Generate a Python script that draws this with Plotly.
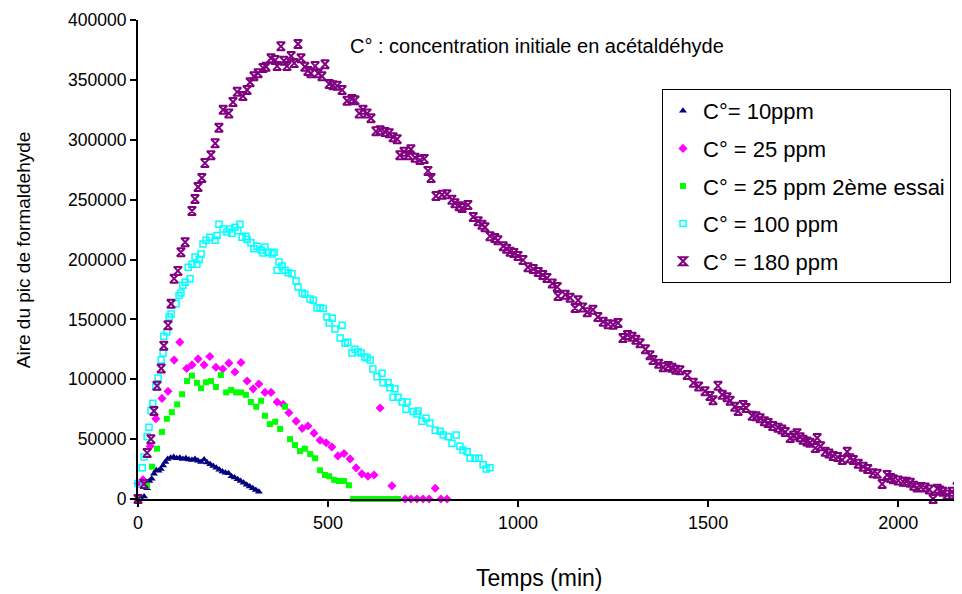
import plotly.graph_objects as go

# ---- data ----
x10 = [0, 8, 16, 24, 30, 36, 42, 48, 54, 60, 66, 72, 78, 86, 94, 102, 110, 118, 126, 134,
       142, 150, 158, 166, 174, 182, 190, 198, 206, 214, 222, 230, 238, 246, 254, 262, 270, 278,
       286, 294, 302, 310, 318]
y10 = [0, 0, 2000, 9000, 15000, 17000, 21000, 24000, 23500, 25000, 28000, 31000, 33500, 34500,
       35000, 34000, 34500, 33500, 34000, 33000, 32500, 33500, 32000, 31000, 33000, 30500, 29000,
       27500, 26000, 24500, 23000, 22000, 21500, 19000, 18000, 16500, 15000, 13500, 12000, 10500,
       9000, 7500, 6000]

x25 = [0, 13, 32, 47, 63, 79, 95, 110, 128, 142, 158, 174, 189, 205, 223, 239, 255, 271, 287, 303,
       318, 334, 350, 366, 382, 397, 416, 432, 447, 463, 479, 495, 510, 526, 542, 558, 574, 589,
       605, 621, 637, 668, 703, 718, 734, 750, 766, 782, 797, 813]
y25 = [13000, 16000, 44000, 67000, 84000, 90000, 116000, 131000, 109000, 112000, 117000, 112000,
       119000, 110000, 108500, 113500, 106000, 114000, 98500, 92000, 96000, 89000, 89000, 81000,
       79000, 72000, 65000, 59000, 61000, 55000, 49000, 47000, 43500, 36000, 38000, 33500, 26000,
       21000, 19000, 20000, 76000, 11000, 0, 0, 0, 0, 0, 9000, 0, 0]

x25b = [0, 24, 37, 50, 63, 76, 89, 103, 116, 129, 142, 155, 166, 179, 192, 205, 218, 232, 245, 258,
        271, 284, 297, 311, 324, 334, 347, 361, 374, 387, 400, 413, 426, 439, 453, 466, 479, 492,
        503, 516, 529, 542, 555, 566, 579, 592, 605, 618, 632, 645, 658, 671, 684]
y25b = [0, 11000, 27000, 42000, 56000, 67000, 72500, 79000, 87500, 98500, 103000, 97000, 92500,
        97500, 98500, 93500, 103500, 89000, 91000, 89000, 89000, 87000, 81000, 77000, 82000, 69500,
        62500, 64500, 58500, 77000, 50000, 45000, 40000, 42000, 37500, 34000, 24000, 20000, 19000,
        16000, 15000, 15000, 11500, 0, 0, 0, 0, 0, 0, 0, 0, 0, 0]

x100 = [0, 11, 16, 24, 29, 34, 39, 47, 53, 61, 66, 68, 76, 82, 87, 100, 108, 113, 118, 124,
        132, 137, 142, 150, 155, 161, 166, 171, 179, 189, 203, 208, 213, 224, 234, 242, 247, 255,
        263, 268, 274, 284, 287, 297, 305, 313, 324, 329, 334, 342, 353, 358, 366, 371, 379, 387,
        395, 405, 416, 421, 432, 439, 453, 461, 471, 479, 487, 497, 503, 511, 518, 532, 537, 545,
        552, 563, 571, 579, 587, 597, 603, 611, 618, 629, 642, 645, 658, 663, 671, 676, 684, 695,
        705, 708, 724, 734, 737, 747, 758, 768, 782, 795, 803, 816, 826, 837, 847, 855, 866, 874,
        887, 897, 908, 916, 926]
y100 = [13000, 26000, 35000, 52000, 60000, 74000, 80000, 93500, 101000, 116000, 122000, 136000,
        139500, 152000, 154500, 163000, 170000, 172000, 178500, 181000, 193500, 184000, 196000,
        202000, 196000, 200000, 204500, 213000, 216000, 218500, 216000, 220000, 229500, 225500,
        223000, 225500, 222000, 227000, 224000, 229500, 218500, 219500, 217000, 214000, 209000,
        211000, 208000, 205500, 210500, 206000, 204500, 206000, 191000, 198000, 194500, 191000,
        189000, 188000, 182000, 177000, 172000, 171000, 167000, 166000, 159500, 159500, 159000,
        152000, 147000, 151000, 142000, 134500, 145000, 130000, 131000, 122000, 125000, 123000,
        122000, 118500, 118000, 116000, 108500, 102000, 105000, 97000, 97000, 93000, 85000, 92000,
        85000, 81000, 75000, 81000, 73000, 71000, 73500, 65000, 67500, 63500, 57500, 56500, 53500,
        52000, 46500, 53500, 44000, 41000, 39500, 34000, 34000, 34000, 28500, 25000, 26000]

x180 = [0, 16, 24, 34, 42, 50, 61, 68, 79, 87,
        95, 105, 113, 124, 142, 150, 158, 168, 176, 192,
        203, 213, 224, 239, 250, 261, 276, 287, 295, 305,
        316, 329, 337, 350, 361, 366, 376, 384, 392, 403,
        411, 421, 429, 439, 447, 455, 466, 474, 484, 492,
        503, 513, 524, 537, 550, 563, 571, 582, 592, 603,
        613, 626, 637, 650, 661, 671, 682, 689, 700, 711,
        718, 729, 742, 753, 763, 771, 784, 800, 813, 826,
        834, 845, 853, 868, 882, 895, 905, 913, 926, 939,
        947, 961, 970, 979, 989, 1000, 1013, 1026, 1040, 1053,
        1065, 1076, 1090, 1103, 1105, 1124, 1137, 1150, 1158, 1170,
        1182, 1197, 1210, 1224, 1237, 1250, 1263, 1276, 1288, 1300,
        1310, 1321, 1335, 1347, 1355, 1370, 1382, 1395, 1405, 1415,
        1426, 1445, 1461, 1475, 1492, 1505, 1513, 1526, 1537, 1550,
        1558, 1570, 1579, 1592, 1600, 1616, 1626, 1637, 1648, 1658,
        1670, 1684, 1694, 1703, 1716, 1725, 1734, 1742, 1750, 1760,
        1768, 1782, 1787, 1796, 1808, 1818, 1829, 1841, 1853, 1866,
        1873, 1882, 1895, 1908, 1920, 1934, 1945, 1958, 1971, 1980,
        1987, 2000, 2013, 2022, 2032, 2041, 2050, 2060, 2071, 2082,
        2092, 2103, 2110, 2118, 2129, 2142, 2150, 2155, 2163]
y180 = [0, 12500, 38500, 50000, 73500, 94500, 109000, 128000, 145000, 163000,
        184000, 190500, 206000, 214500, 240500, 250500, 260500, 268000, 280500, 287000,
        297000, 310000, 325000, 322000, 331500, 340000, 336500, 341500, 348000, 353000,
        355500, 360000, 361000, 368000, 366500, 361500, 378000, 366000, 361500, 370000,
        364000, 380000, 368000, 361000, 357500, 355500, 361500, 355500, 353000, 363000,
        346500, 345500, 345000, 341500, 332500, 334000, 333000, 322000, 325000, 322000,
        318000, 307000, 308000, 306500, 305500, 302000, 300500, 287000, 290000, 287000,
        292000, 285000, 283000, 284000, 274000, 268000, 253000, 254000, 254500, 250000,
        247000, 244500, 243000, 245500, 235500, 232000, 229000, 227000, 219500, 218000,
        216000, 211000, 209000, 206500, 205500, 203000, 199500, 193500, 192000, 189500,
        187000, 184500, 180000, 177000, 169500, 170500, 168000, 159500, 166000, 160000,
        156000, 158000, 152000, 148000, 146000, 145500, 147000, 134500, 137000, 135500,
        133000, 130000, 125000, 120000, 116000, 113000, 110000, 111000, 109500, 108000,
        107500, 103500, 97000, 94000, 90000, 86000, 82500, 94500, 87000, 85000,
        82000, 77000, 73500, 78500, 76000, 69500, 69000, 67500, 65000, 63500,
        61000, 59500, 58000, 56000, 51000, 53000, 55000, 51500, 49500, 48000,
        47000, 42500, 51000, 44000, 39500, 38000, 36000, 35000, 32500, 39500,
        34000, 32500, 29500, 27000, 25000, 21500, 21000, 12500, 20000, 17500,
        16500, 15500, 14500, 14500, 13500, 11000, 9500, 10000, 9500, 8000,
        0, 8500, 7000, 6000, 3500, 6000, 3000, 10000, 1500]

names = ["C°= 10ppm", "C° = 25 ppm", "C° = 25 ppm 2ème essai", "C° = 100 ppm", "C° = 180 ppm"]
y_ticks = [0, 50000, 100000, 150000, 200000, 250000, 300000, 350000, 400000]
x_ticks = [0, 500, 1000, 1500, 2000]

FONT = "Liberation Sans, Arial, sans-serif"

series = [
    (x10, y10, names[0], dict(symbol="triangle-up", color="#000080", size=7)),
    (x25, y25, names[1], dict(symbol="diamond", color="#FF00FF", size=7)),
    (x25b, y25b, names[2], dict(symbol="square", color="#00FF00", size=6)),
    (x100, y100, names[3], dict(symbol="square-open", color="#00FFFF", size=6,
                                line=dict(width=1.5, color="#00FFFF"))),
    (x180, y180, names[4], dict(symbol="hourglass-open", color="#800080", size=8,
                                line=dict(width=2, color="#800080"))),
]

fig = go.Figure()
for i, (xs, ys, nm, mk) in enumerate(series):
    fig.add_trace(go.Scatter(x=xs, y=ys, mode="markers", name=nm, marker=mk,
                             legendgroup="g%d" % i, cliponaxis=False))

fig.add_annotation(x=553, y=378000, xref="x", yref="y", text="C° : concentration initiale en acétaldéhyde",
                   showarrow=False, xanchor="left", yanchor="middle",
                   font=dict(family=FONT, size=20, color="black"))
# axis titles
fig.add_annotation(x=-0.138, y=0.52, xref="paper", yref="paper", text="Aire du pic de formaldehyde",
                   showarrow=False, textangle=-90, xanchor="center", yanchor="middle",
                   font=dict(family=FONT, size=19, color="black"))
fig.add_annotation(x=(539 - 138) / 824, y=-0.165, xref="paper", yref="paper", text="Temps (min)",
                   showarrow=False, xanchor="center", yanchor="middle",
                   font=dict(family=FONT, size=23, color="black"))

# page body has an 8px default margin, so the figure is sized/offset to compensate
fig.update_layout(
    width=954, height=586,
    margin=dict(l=130, r=0, t=12, b=95),
    paper_bgcolor="white", plot_bgcolor="white",
    font=dict(family=FONT, color="black"),
    showlegend=True,
    legend=dict(x=(662 - 138) / 824, y=(499 - 89) / 479, xanchor="left", yanchor="top",
                bordercolor="black", borderwidth=1, bgcolor="white",
                font=dict(family=FONT, size=22, color="black"),
                tracegroupgap=6, itemsizing="trace"),
    xaxis=dict(range=[0, 2168], tickvals=x_ticks, ticktext=[str(v) for v in x_ticks],
               automargin=False,
               showgrid=False, zeroline=False, showline=True, linecolor="black", linewidth=2,
               ticks="outside", ticklen=6, tickwidth=2, tickcolor="black",
               tickfont=dict(family=FONT, size=18, color="black")),
    yaxis=dict(range=[0, 400000], tickvals=y_ticks, ticktext=[str(v) for v in y_ticks],
               automargin=False,
               showgrid=False, zeroline=False, showline=True, linecolor="black", linewidth=2,
               ticks="outside", ticklen=6, tickwidth=2, tickcolor="black",
               tickfont=dict(family=FONT, size=17.5, color="black")),
)

fig.write_html("out.html")
